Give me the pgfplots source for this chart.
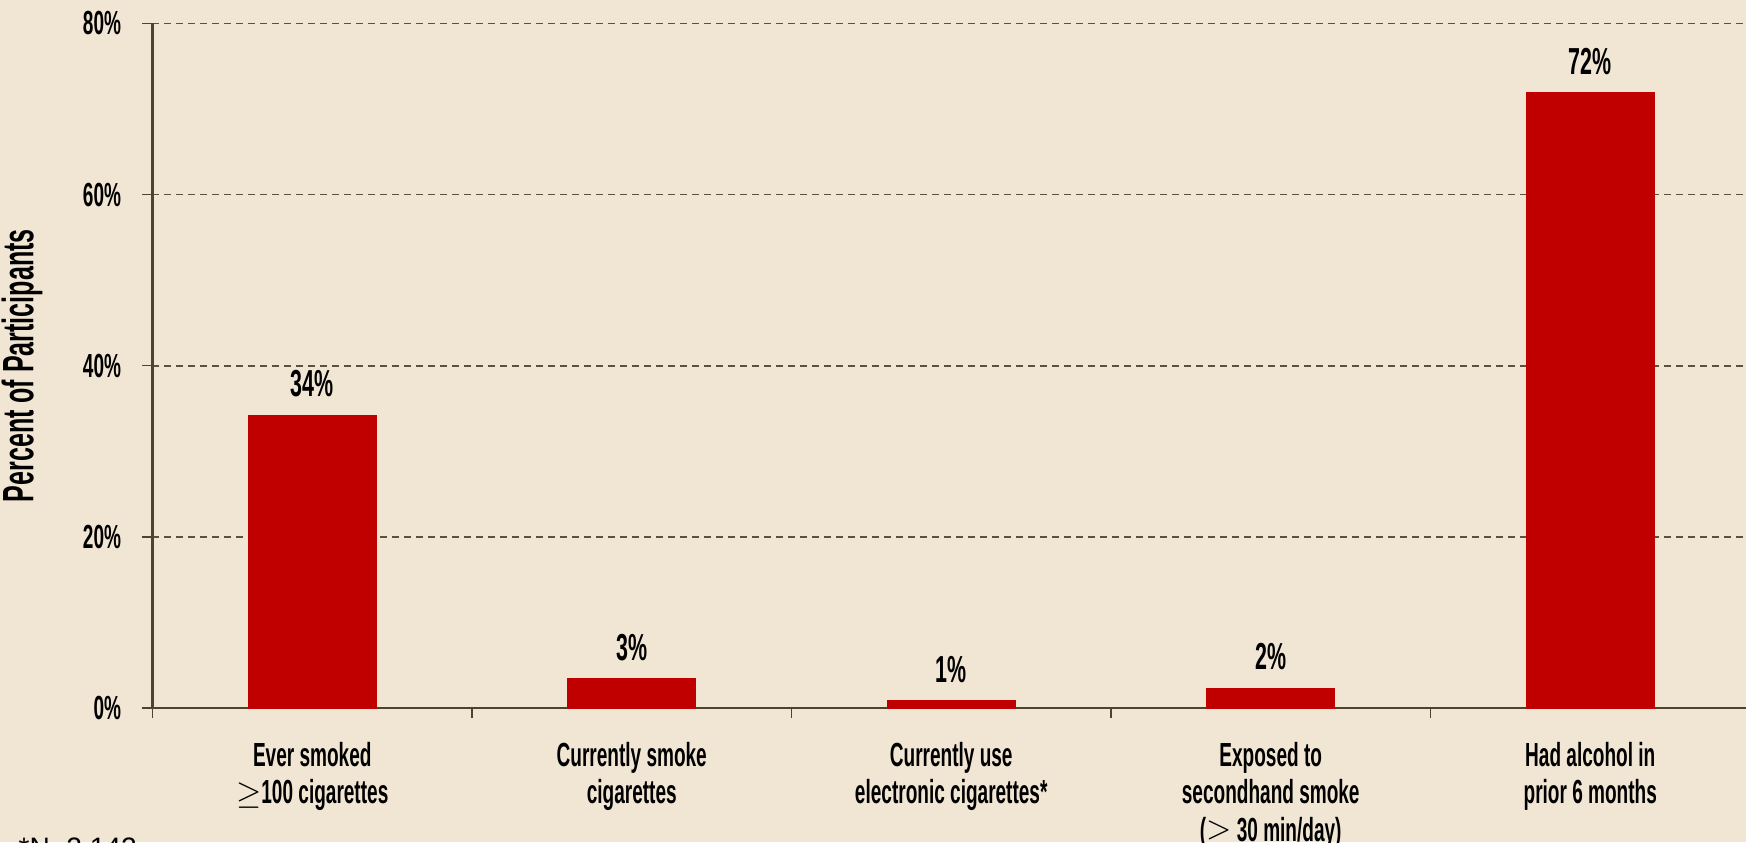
\documentclass[border=0pt]{standalone}
\usepackage{pgfplots}
\pgfplotsset{compat=1.18}
\usepackage{fontspec}
\setmainfont{Liberation Sans}
\newfontfamily\cond[FakeStretch=0.57]{Liberation Sans}
\definecolor{bgcol}{RGB}{241,230,211}
\definecolor{barcol}{RGB}{192,0,0}
\definecolor{gridcol}{RGB}{92,82,60}
\definecolor{axiscol}{RGB}{78,68,45}
\begin{document}
\begin{tikzpicture}
\begin{scope}
\clip (0,0) rectangle (17.46,8.42);
\fill[bgcol] (0,0) rectangle (17.46,8.42);
\begin{axis}[
  at={(1.525cm,1.34cm)}, anchor=south west,
  scale only axis, width=15.975cm, height=6.846cm,
  xmin=-0.5, xmax=4.5, ymin=0, ymax=80,
  axis x line*=bottom, axis y line*=left,
  axis line style={axiscol, line width=0.6pt},
  ytick={0,20,40,60,80},
  yticklabels={0\%,20\%,40\%,60\%,80\%},
  tick align=outside,
  major tick length=1mm,
  ytick style={axiscol, line width=0.4pt},
  xtick={0,1,2,3,4},
  xtick style={draw=none},
  xticklabels={
    {Ever smoked\\$\geq$100 cigarettes},
    {Currently smoke\\cigarettes},
    {Currently use\\electronic cigarettes*},
    {Exposed to\\secondhand smoke\\($\geq$ 30 min/day)},
    {Had alcohol in\\prior 6 months}},
  extra x ticks={-0.5,0.5,1.5,2.5,3.5},
  extra x tick labels={},
  extra x tick style={xtick style={draw=axiscol, line width=0.4pt}, grid=none},
  xticklabel style={align=center, font=\cond\bfseries\fontsize{9.5}{10.6}\selectfont, yshift=-1.2mm},
  yticklabel style={font=\cond\bfseries\fontsize{9.5}{11}\selectfont, xshift=-0.9mm},
  ymajorgrids,
  major grid style={gridcol, line width=0.5pt, dash pattern=on 0.7mm off 0.5mm},
  ylabel={Percent of Participants},
  ylabel style={at={(axis description cs:-0.0817,0.5)}, anchor=center, font=\cond\bfseries\fontsize{12.5}{14}\selectfont},
  ybar, bar width=0.4,
  nodes near coords, point meta=explicit symbolic,
  every node near coord/.append style={font=\cond\bfseries\fontsize{10.7}{12}\selectfont, text=black, yshift=0.6mm},
]
\addplot[fill=barcol, draw=barcol] coordinates {
  (0,34.2) [34\%]
  (1,3.4) [3\%]
  (2,0.8) [1\%]
  (3,2.3) [2\%]
  (4,71.9) [72\%]
};
\end{axis}
\node[anchor=north west, inner sep=0, font=\fontsize{8}{9}\selectfont] at (0.18,0.05) {*N=2,142};
\end{scope}
\pgfresetboundingbox
\path[use as bounding box] (0,0) rectangle (17.46,8.42);
\end{tikzpicture}
\end{document}
